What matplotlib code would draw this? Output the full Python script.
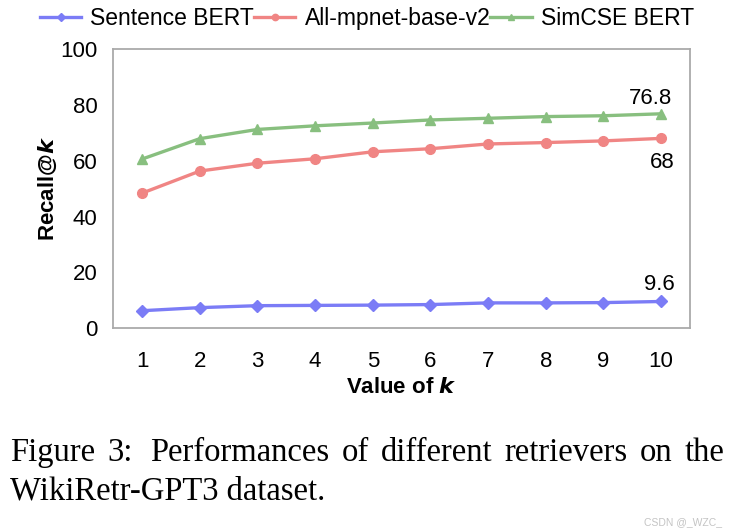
import matplotlib
matplotlib.use("Agg")
import matplotlib.pyplot as plt

k_values = [1, 2, 3, 4, 5, 6, 7, 8, 9, 10]
sentence_bert = [6.3, 7.4, 8.1, 8.2, 8.3, 8.5, 9.1, 9.1, 9.2, 9.6]
mpnet = [48.4, 56.3, 59.1, 60.7, 63.2, 64.3, 66.0, 66.5, 67.1, 68.0]
simcse = [60.6, 67.9, 71.2, 72.5, 73.5, 74.6, 75.2, 75.8, 76.1, 76.8]
series_names = ["Sentence BERT", "All-mpnet-base-v2", "SimCSE BERT"]
y_ticks = [0, 20, 40, 60, 80, 100]
caption_line1 = ["Figure", "3:", "Performances", "of", "different", "retrievers", "on", "the"]
caption_line2 = "WikiRetr-GPT3 dataset."

plt.rcParams['font.family'] = ['Liberation Sans', 'DejaVu Sans']

fig = plt.figure(figsize=(7.34, 5.32), dpi=100)
ax = fig.add_axes([113.3/734, 1-328.3/532, (690-113.3)/734, (328.3-49)/532])

c_blue = "#7b7cf6"
c_red = "#f08584"
c_green = "#88bf7f"

l1, = ax.plot(k_values, sentence_bert, color=c_blue, lw=2.4, marker="D", ms=6.5, label=series_names[0])
l2, = ax.plot(k_values, mpnet, color=c_red, lw=2.4, marker="o", ms=7, label=series_names[1])
l3, = ax.plot(k_values, simcse, color=c_green, lw=2.4, marker="^", ms=7, label=series_names[2])

ax.set_xlim(0.5, 10.5)
ax.set_ylim(0, 100)
ax.set_xticks(k_values)
ax.set_yticks(y_ticks)
ax.tick_params(axis='both', length=0, labelsize=16)
ax.tick_params(axis='y', pad=11.5)
ax.tick_params(axis='x', pad=16)
for s in ax.spines.values():
    s.set_color("#aaaaaa")
    s.set_linewidth(1.3)

ax.set_ylabel("Recall@$\\boldsymbol{k}$", fontsize=16, fontweight='bold', labelpad=1)
ax.set_xlabel("Value of $\\boldsymbol{k}$", fontsize=16, fontweight='bold', labelpad=4)

ax.annotate("76.8", (k_values[-1], simcse[-1]), xytext=(-8, 3.2), textcoords='offset points',
            ha='center', va='bottom', fontsize=16)
ax.annotate("68", (k_values[-1], mpnet[-1]), xytext=(1, -10), textcoords='offset points',
            ha='center', va='top', fontsize=16)
ax.annotate("9.6", (k_values[-1], sentence_bert[-1]), xytext=(-1.5, 4.5), textcoords='offset points',
            ha='center', va='bottom', fontsize=16)

leg = fig.legend(handles=[l1, l2, l3], loc='upper center', bbox_to_anchor=(0.5, 1.025), ncol=3,
                 frameon=False, fontsize=16.5, handlelength=1.8, handletextpad=0.4,
                 columnspacing=0.0, markerscale=0.65)

# caption, line 1 justified between x=10 and x=724 px
serif = ['Liberation Serif', 'DejaVu Serif']
cap_fs = 23.5
renderer = fig.canvas.get_renderer()
words = [fig.text(0, 1-453/532, w, family=serif, fontsize=cap_fs, va='center', ha='left')
         for w in caption_line1]
widths = [t.get_window_extent(renderer).width for t in words]
x0, x1 = 10.0, 724.0
extra_after_colon = 6.0
gap = (x1 - x0 - sum(widths) - extra_after_colon) / (len(words) - 1)
x = x0
for i, (t, w) in enumerate(zip(words, widths)):
    t.set_x(x / 734)
    x += w + gap
    if i == 1:
        x += extra_after_colon
fig.text(10/734, 1-491/532, caption_line2, family=serif, fontsize=cap_fs, va='center', ha='left')
fig.text(722/734, 1-522/532, "CSDN @_WZC_", color="#c4c4c4", fontsize=7.5, ha='right', va='center')

fig.savefig("out.png", dpi=100)
